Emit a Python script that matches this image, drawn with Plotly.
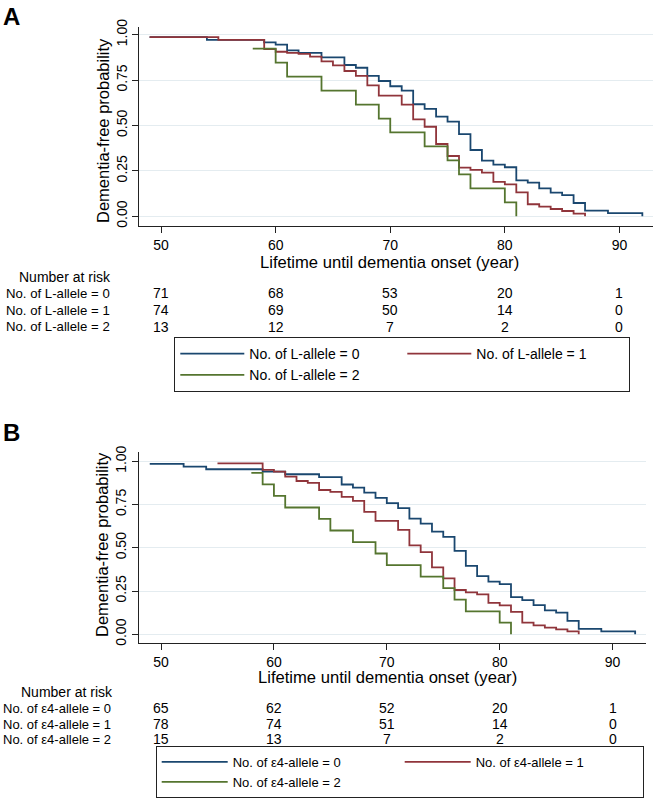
import plotly.graph_objects as go

W, H = 653, 798
FONT = "Liberation Sans, Arial, Helvetica, sans-serif"

# ---------------- data ----------------
x_ticks = [50, 60, 70, 80, 90]
y_ticks = [0, 0.25, 0.5, 0.75, 1.0]
y_tick_text = ["0.00", "0.25", "0.50", "0.75", "1.00"]
x_title = "Lifetime until dementia onset (year)"
y_title = "Dementia-free probability"

# Panel A: No. of L-allele
a_names = ["No. of L-allele = 0", "No. of L-allele = 1", "No. of L-allele = 2"]
a0_age = [49, 54, 59, 60, 61, 62, 64, 66, 67, 68, 69, 70, 71, 72, 73, 74, 75, 76, 77, 78,
          79, 80, 81, 82, 83, 84, 85, 86, 87, 89, 92]
a0_surv = [0.987, 0.971, 0.958, 0.945, 0.914, 0.900, 0.875, 0.833, 0.818, 0.773, 0.745,
           0.716, 0.692, 0.617, 0.591, 0.549, 0.521, 0.452, 0.365, 0.306, 0.284, 0.270,
           0.198, 0.185, 0.154, 0.130, 0.116, 0.073, 0.031, 0.017, 0.0]
a1_age = [49, 55, 59, 60, 61, 62, 63, 64, 65, 66, 67, 68, 69, 71, 72, 73, 74, 75, 76, 77,
          78, 79, 80, 81, 82, 83, 84, 85, 86, 87]
a1_surv = [0.987, 0.971, 0.920, 0.906, 0.900, 0.894, 0.879, 0.853, 0.831, 0.800, 0.773,
           0.721, 0.664, 0.615, 0.534, 0.493, 0.398, 0.332, 0.268, 0.255, 0.240, 0.189,
           0.176, 0.132, 0.066, 0.053, 0.040, 0.029, 0.014, 0.0]
a2_age = [58, 60, 61, 64, 67, 69, 70, 73, 75, 76, 77, 80, 81]
a2_surv = [0.923, 0.846, 0.769, 0.692, 0.615, 0.538, 0.462, 0.385, 0.308, 0.231, 0.154,
           0.077, 0.0]
a_risk = [[71, 68, 53, 20, 1],
          [74, 69, 50, 14, 0],
          [13, 12, 7, 2, 0]]

# Panel B: No. of e4-allele
b_names = ["No. of ε4-allele = 0", "No. of ε4-allele = 1", "No. of ε4-allele = 2"]
b0_age = [49, 52, 54, 59, 61, 64, 66, 67, 68, 69, 70, 71, 72, 73, 74, 75, 76, 77, 78, 79,
          80, 81, 82, 83, 84, 85, 86, 87, 89, 92]
b0_surv = [0.985, 0.969, 0.954, 0.940, 0.925, 0.909, 0.866, 0.848, 0.819, 0.788, 0.758,
           0.729, 0.669, 0.640, 0.594, 0.563, 0.482, 0.396, 0.336, 0.304, 0.290, 0.215,
           0.198, 0.169, 0.138, 0.125, 0.077, 0.031, 0.017, 0.0]
b1_age = [55, 59, 60, 61, 62, 63, 64, 65, 66, 67, 68, 69, 71, 72, 73, 74, 75, 76, 77, 78,
          79, 80, 81, 82, 83, 84, 85, 86, 87]
b1_surv = [0.988, 0.950, 0.940, 0.911, 0.886, 0.875, 0.834, 0.823, 0.794, 0.771, 0.708,
           0.656, 0.604, 0.514, 0.475, 0.387, 0.323, 0.256, 0.242, 0.231, 0.182, 0.167,
           0.130, 0.067, 0.052, 0.038, 0.029, 0.017, 0.0]
b2_age = [58, 59, 60, 61, 64, 65, 67, 69, 70, 73, 75, 76, 77, 80, 81]
b2_surv = [0.933, 0.867, 0.800, 0.733, 0.667, 0.600, 0.533, 0.467, 0.400, 0.333, 0.267,
           0.200, 0.133, 0.067, 0.0]
b_risk = [[65, 62, 52, 20, 1],
          [78, 74, 51, 14, 0],
          [15, 13, 7, 2, 0]]

colors = ["#1a476f", "#90353b", "#55752f"]
grid_color = "#e4ecf0"
axis_color = "#222222"

# ---------------- figure ----------------
fig = go.Figure()

a_series = [(a0_age, a0_surv), (a1_age, a1_surv), (a2_age, a2_surv)]
b_series = [(b0_age, b0_surv), (b1_age, b1_surv), (b2_age, b2_surv)]

for (xs, ys), name, col in zip(a_series, a_names, colors):
    fig.add_trace(go.Scatter(x=xs, y=ys, mode="lines", line_shape="hv",
                             line=dict(color=col, width=1.8), name=name,
                             xaxis="x", yaxis="y", legend="legend"))
for (xs, ys), name, col in zip(b_series, b_names, colors):
    fig.add_trace(go.Scatter(x=xs, y=ys, mode="lines", line_shape="hv",
                             line=dict(color=col, width=1.8), name=name,
                             xaxis="x2", yaxis="y2", legend="legend2"))


def px_x(p):
    return p / W


def px_y(p):
    return 1 - p / H


common_x = dict(showline=True, linecolor=axis_color, linewidth=1, ticks="outside",
                ticklen=6, tickcolor=axis_color, tickvals=x_ticks, showgrid=False,
                zeroline=False, tickfont=dict(size=14, color="black", family=FONT))
common_y = dict(showline=True, linecolor=axis_color, linewidth=1, ticks="outside",
                ticklen=6, tickcolor=axis_color, tickvals=y_ticks, ticktext=y_tick_text,
                tickangle=-90, showgrid=True, gridcolor=grid_color, gridwidth=1.3,
                zeroline=False, tickfont=dict(size=14, color="black", family=FONT))

fig.update_layout(
    width=W, height=H, autosize=False,
    margin=dict(l=0, r=0, t=0, b=0, autoexpand=False),
    paper_bgcolor="white", plot_bgcolor="white",
    font=dict(family=FONT, color="black"),
    xaxis=dict(domain=[px_x(139.3), 1.0], range=[48.1, 92.93], anchor="y", **common_x),
    yaxis=dict(domain=[px_y(225.7), px_y(26.7)], range=[-0.052, 1.044], anchor="x", **common_y),
    xaxis2=dict(domain=[px_x(138.8), px_x(646)], range=[48.03, 92.96], anchor="y2", **common_x),
    yaxis2=dict(domain=[px_y(642.7), px_y(452.3)], range=[-0.0486, 1.052], anchor="x2", **common_y),
    legend=dict(x=px_x(174.3), y=px_y(337), xanchor="left", yanchor="top",
                orientation="h", bordercolor=axis_color, borderwidth=1,
                bgcolor="rgba(0,0,0,0)",
                font=dict(size=14, family=FONT, color="black"),
                entrywidth=148, entrywidthmode="pixels", itemwidth=64,
                traceorder="normal"),
    legend2=dict(x=px_x(155.7), y=px_y(746), xanchor="left", yanchor="top",
                 orientation="h", bordercolor=axis_color, borderwidth=1,
                 bgcolor="rgba(0,0,0,0)",
                 font=dict(size=13, family=FONT, color="black"),
                 entrywidth=162, entrywidthmode="pixels", itemwidth=66,
                 traceorder="normal"),
    showlegend=True,
)

ann = []


def text(x, y, s, size, xanchor="center", xref="paper", angle=0, bold=False):
    ann.append(dict(x=x, y=y, xref=xref, yref="paper", text=("<b>%s</b>" % s) if bold else s,
                    showarrow=False, xanchor=xanchor, yanchor="middle", textangle=angle,
                    font=dict(size=size, family=FONT, color="black")))


# panel letters
text(px_x(1), px_y(16.5), "A", 24, xanchor="left", bold=True)
text(px_x(1), px_y(432), "B", 24, xanchor="left", bold=True)

# axis titles
text(px_x(103), px_y(131), y_title, 16.5, angle=-90)
text(px_x(102), px_y(545), y_title, 16.5, angle=-90)
text(px_x(389.3), px_y(262.3), x_title, 16.6)
text(px_x(387.5), px_y(677.3), x_title, 16.6)

# number at risk tables
text(px_x(113), px_y(277.3), "Number at risk", 14, xanchor="right")
a_rows_y = [293.3, 310.0, 326.7]
for name, row, ry in zip(a_names, a_risk, a_rows_y):
    text(px_x(112), px_y(ry), name, 13.2, xanchor="right")
    for xv, n in zip(x_ticks, row):
        ann.append(dict(x=xv, y=px_y(ry), xref="x", yref="paper", text=str(n),
                        showarrow=False, xanchor="center", yanchor="middle",
                        font=dict(size=14, family=FONT, color="black")))

text(px_x(115), px_y(691.7), "Number at risk", 14, xanchor="right")
b_rows_y = [708.3, 724.3, 739.0]
for name, row, ry in zip(b_names, b_risk, b_rows_y):
    text(px_x(113), px_y(ry), name, 13.0, xanchor="right")
    for xv, n in zip(x_ticks, row):
        ann.append(dict(x=xv, y=px_y(ry), xref="x2", yref="paper", text=str(n),
                        showarrow=False, xanchor="center", yanchor="middle",
                        font=dict(size=14, family=FONT, color="black")))

fig.update_layout(annotations=ann)

fig.write_html("out.html",
               config={"displayModeBar": False},
               post_script="document.body.style.margin='0px';document.body.style.padding='0px';")
